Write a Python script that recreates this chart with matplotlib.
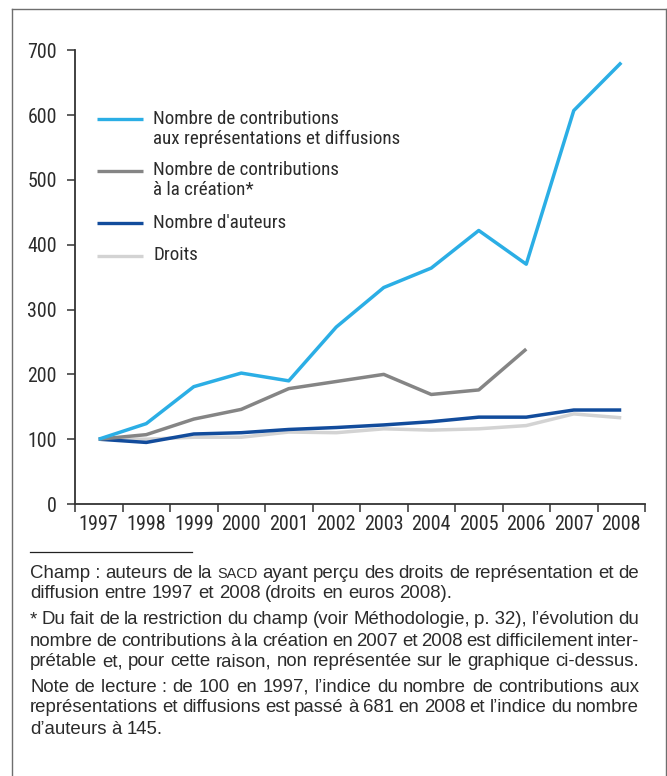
import matplotlib
matplotlib.use("Agg")
import matplotlib.pyplot as plt
from matplotlib.lines import Line2D
import numpy as np

# ---------------- data ----------------
years = ["1997", "1998", "1999", "2000", "2001", "2002",
         "2003", "2004", "2005", "2006", "2007", "2008"]
contrib_repr = [100, 124, 181, 202, 190, 273, 334, 364, 422, 370, 607, 681]
contrib_creation = [100, 107, 131, 146, 178, 189, 200, 169, 176, 239, np.nan, np.nan]
nb_auteurs = [100, 95, 108, 110, 115, 118, 122, 127, 134, 134, 145, 145]
droits = [100, 100, 103, 103, 111, 110, 116, 114, 116, 121, 139, 133]

series_labels = ["Nombre de contributions\naux représentations et diffusions",
                 "Nombre de contributions\nà la création*",
                 "Nombre d'auteurs",
                 "Droits"]
y_ticks = [0, 100, 200, 300, 400, 500, 600, 700]

C_CYAN = "#2BAEE5"
C_GRAY = "#858585"
C_BLUE = "#124C9C"
C_LIGHT = "#D3D3D3"
TXT = "#2b2b2b"
AX = "#333333"

CHART_FONT = ["Roboto Condensed", "Archivo Narrow", "DejaVu Sans"]
NOTE_FONT = ["Liberation Sans", "DejaVu Sans"]

W, H = 667, 776
fig = plt.figure(figsize=(W / 100, H / 100), dpi=100)
fig.patch.set_facecolor("white")


def fx(x):
    return x / W


def fy(y):
    return 1 - y / H


# ---------------- axes ----------------
ax_left, ax_right, ax_top, ax_bottom = 75, 645, 50.3, 504
ax = fig.add_axes([fx(ax_left), fy(ax_bottom), (ax_right - ax_left) / W,
                   (ax_bottom - ax_top) / H])
x = np.arange(len(years))

lw = 2.5
ax.plot(x, droits, color=C_LIGHT, lw=lw, solid_capstyle="butt", clip_on=False)
ax.plot(x, nb_auteurs, color=C_BLUE, lw=lw, solid_capstyle="butt", clip_on=False)
ax.plot(x, contrib_creation, color=C_GRAY, lw=lw, solid_capstyle="butt", clip_on=False)
ax.plot(x, contrib_repr, color=C_CYAN, lw=lw, solid_capstyle="butt", clip_on=False)

ax.set_xlim(-0.5, len(years) - 0.5)
ax.set_ylim(0, 700)
for s in ["top", "right"]:
    ax.spines[s].set_visible(False)
for s in ["left", "bottom"]:
    ax.spines[s].set_color(AX)
    ax.spines[s].set_linewidth(1.3)

ax.set_yticks(y_ticks)
ax.set_yticklabels([str(v) for v in y_ticks], family=CHART_FONT, fontsize=14.3, color=TXT)
ax.tick_params(axis="y", direction="out", length=6, width=1.1, color=AX, pad=7)

ax.set_xticks(np.arange(-0.5, len(years), 1.0))
ax.set_xticklabels([])
ax.set_xticks(x, minor=True)
ax.set_xticklabels(years, minor=True, family=CHART_FONT, fontsize=14.5, color=TXT)
ax.tick_params(axis="x", which="major", direction="out", length=6, width=1.1, color=AX)
ax.tick_params(axis="x", which="minor", length=0, pad=8)

# ---------------- legend (manual, first line aligned with key) ----------------
leg_colors = [C_CYAN, C_GRAY, C_BLUE, C_LIGHT]
leg_y = [119.3, 170.7, 223.3, 255.7]
for col, yy, lab in zip(leg_colors, leg_y, series_labels):
    fig.add_artist(Line2D([fx(97.3), fx(143.3)], [fy(yy), fy(yy)], color=col,
                          lw=2.4, solid_capstyle="butt"))
    for i, line in enumerate(lab.split("\n")):
        fig.text(fx(153.3), fy(yy + 4.5 + 20 * i), line, family=CHART_FONT,
                 fontsize=13.7, color=TXT, va="baseline", ha="left")

# ---------------- outer frame ----------------
frame_c = "#6e6e6e"
fig.add_artist(Line2D([fx(11.5), fx(11.5)], [fy(H + 2), fy(9)], color=frame_c, lw=1.0))
fig.add_artist(Line2D([fx(11.5), fx(665.5)], [fy(9), fy(9)], color=frame_c, lw=1.0))
fig.add_artist(Line2D([fx(665.5), fx(665.5)], [fy(9), fy(H + 2)], color=frame_c, lw=1.0))

# separator
fig.add_artist(Line2D([fx(30), fx(191.7)], [fy(551.7), fy(551.7)], color="#222222", lw=0.9))

# ---------------- footnotes (justified) ----------------
renderer = fig.canvas.get_renderer()
NOTE_SIZE = 13.4


def tok_width(tok):
    text, sc = tok
    size = NOTE_SIZE * 0.78 if sc else NOTE_SIZE
    t = fig.text(0, 0, text, family=NOTE_FONT, fontsize=size)
    w = t.get_window_extent(renderer).width
    t.remove()
    return w


space_w = tok_width(("a a", False)) - tok_width(("aa", False))


def draw_line(words, y_base, justify, x0=30, x1=639):
    toks = [(w[1:], True) if w.startswith("§") else (w.replace("_", " "), False)
            for w in words]
    widths = [tok_width(t) for t in toks]
    if justify and len(toks) > 1:
        gap = (x1 - x0 - sum(widths)) / (len(toks) - 1)
    else:
        gap = space_w
    xx = x0
    for (text, sc), w in zip(toks, widths):
        size = NOTE_SIZE * 0.78 if sc else NOTE_SIZE
        fig.text(fx(xx), fy(y_base), text, family=NOTE_FONT, fontsize=size,
                 color=TXT, va="baseline", ha="left")
        xx += w + gap


note_lines = [
    ("Champ_: auteurs de la §SACD ayant perçu des droits de représentation et de", True, 577.5),
    ("diffusion entre 1997 et 2008 (droits en euros 2008).", False, 598.5),
    ("* Du fait de la restriction du champ (voir Méthodologie, p._32), l’évolution du", True, 624.5),
    ("nombre de contributions à la création en 2007 et 2008 est difficilement inter-", True, 645.5),
    ("prétable et, pour cette raison, non représentée sur le graphique ci-dessus.", True, 666.5),
    ("Note de lecture_: de 100 en 1997, l’indice du nombre de contributions aux", True, 691.5),
    ("représentations et diffusions est passé à 681 en 2008 et l’indice du nombre", True, 712.5),
    ("d’auteurs à 145.", False, 734),
]
for txt, just, yb in note_lines:
    draw_line(txt.split(" "), yb, just)

fig.savefig("out.png", dpi=100, facecolor="white")
